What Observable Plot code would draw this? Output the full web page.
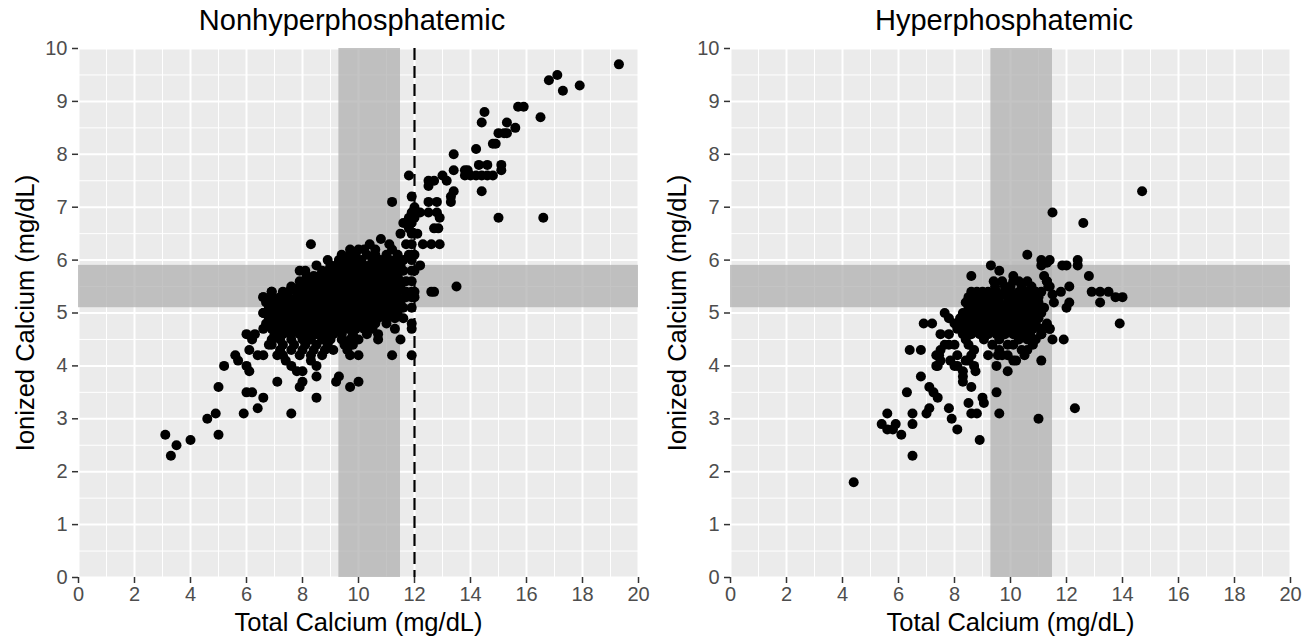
<!DOCTYPE html>
<html><head><meta charset="utf-8">
<script src="https://cdn.jsdelivr.net/npm/d3@7"></script>
<script src="https://cdn.jsdelivr.net/npm/@observablehq/plot@0.6"></script>
<style>
body{margin:0;background:#fff;}
#wrap{position:relative;width:1312px;height:641px;font-family:"Liberation Sans",Arial,sans-serif;overflow:hidden;}
.panel{position:absolute;top:0;width:656px;height:641px;}
.title{position:absolute;top:2px;height:36px;line-height:36px;font-size:29px;color:#000;text-align:center;white-space:nowrap;}
.panel svg{position:absolute;top:36px;left:0;}
</style></head><body><div id="wrap"></div>
<script>
// ---- data ----
const panelTitles = ["Nonhyperphosphatemic", "Hyperphosphatemic"];
const xLabel = "Total Calcium (mg/dL)";
const yLabel = "Ionized Calcium (mg/dL)";
const xTicks = [0, 2, 4, 6, 8, 10, 12, 14, 16, 18, 20];
const xMinor = [1, 3, 5, 7, 9, 11, 13, 15, 17, 19];
const yTicks = [0, 1, 2, 3, 4, 5, 6, 7, 8, 9, 10];
const yMinor = [0.5, 1.5, 2.5, 3.5, 4.5, 5.5, 6.5, 7.5, 8.5, 9.5];
const normalTotalRange = [9.3, 11.5];     // vertical reference band
const normalIonizedRange = [5.1, 5.9];    // horizontal reference band
const totalThreshold = [12];              // dashed line (left panel only)

// Nonhyperphosphatemic: dense core, rows of [ionized, [total...]]
const nonhyperRows = [
  [6.4, [10.8]],
  [6.3, [10.4, 11.1]],
  [6.2, [9.7, 10.0, 10.2, 10.6, 11.2]],
  [6.1, [9.4, 9.7, 9.9, 10.3, 10.6, 11.0, 11.4]],
  [6.0, [9.3, 9.6, 9.9, 10.1, 10.5, 10.8, 11.1, 11.3]],
  [5.9, [9.0, 9.2, 9.4, 9.6, 9.8, 10.0, 10.2, 10.4, 10.6, 10.8, 11.0, 11.2, 11.5]],
  [5.8, [8.7, 8.9, 9.1, 9.3, 9.4, 9.6, 9.8, 10.0, 10.1, 10.3, 10.5, 10.7, 10.9, 11.1, 11.3, 11.6]],
  [5.7, [8.4, 8.6, 8.7, 8.9, 9.0, 9.2, 9.3, 9.5, 9.6, 9.8, 9.9, 10.1, 10.2, 10.4, 10.5, 10.7, 10.8, 11.0, 11.1, 11.3, 11.4]],
  [5.6, [7.9, 8.2, 8.4, 8.5, 8.7, 8.8, 9.0, 9.1, 9.3, 9.4, 9.6, 9.7, 9.9, 10.0, 10.2, 10.3, 10.5, 10.6, 10.8, 10.9, 11.1, 11.2, 11.4, 11.5, 11.7]],
  [5.5, [7.6, 7.9, 8.1, 8.2, 8.4, 8.5, 8.7, 8.8, 9.0, 9.1, 9.3, 9.4, 9.6, 9.7, 9.9, 10.0, 10.2, 10.3, 10.5, 10.6, 10.8, 10.9, 11.1, 11.2, 11.4, 11.5]],
  [5.4, [6.9, 7.3, 7.5, 7.8, 8.0, 8.1, 8.3, 8.4, 8.6, 8.7, 8.9, 9.0, 9.2, 9.3, 9.5, 9.6, 9.8, 9.9, 10.1, 10.2, 10.4, 10.5, 10.7, 10.8, 11.0, 11.1, 11.3, 11.4, 11.7]],
  [5.3, [6.6, 6.9, 7.2, 7.5, 7.8, 8.0, 8.1, 8.3, 8.4, 8.6, 8.7, 8.9, 9.0, 9.2, 9.3, 9.5, 9.6, 9.8, 9.9, 10.1, 10.2, 10.4, 10.5, 10.7, 10.8, 11.0, 11.1, 11.3, 11.4, 11.7]],
  [5.2, [6.7, 7.0, 7.3, 7.6, 7.9, 8.1, 8.2, 8.4, 8.5, 8.7, 8.8, 9.0, 9.1, 9.3, 9.4, 9.6, 9.7, 9.9, 10.0, 10.2, 10.3, 10.5, 10.6, 10.8, 10.9, 11.1, 11.2, 11.5]],
  [5.1, [6.8, 7.1, 7.4, 7.7, 8.0, 8.2, 8.3, 8.5, 8.6, 8.8, 8.9, 9.1, 9.2, 9.4, 9.5, 9.7, 9.8, 10.0, 10.1, 10.3, 10.4, 10.6, 10.7, 10.9, 11.0, 11.3, 11.6]],
  [5.0, [6.6, 6.9, 7.2, 7.5, 7.8, 8.0, 8.1, 8.3, 8.4, 8.6, 8.7, 8.9, 9.0, 9.2, 9.3, 9.5, 9.6, 9.8, 9.9, 10.1, 10.2, 10.4, 10.5, 10.8, 11.1, 11.4]],
  [4.9, [6.8, 7.1, 7.4, 7.7, 8.0, 8.2, 8.3, 8.5, 8.6, 8.8, 8.9, 9.1, 9.2, 9.4, 9.5, 9.7, 9.8, 10.0, 10.1, 10.4, 10.7, 11.0, 11.3, 11.6]],
  [4.8, [6.7, 7.0, 7.3, 7.6, 7.9, 8.1, 8.2, 8.4, 8.5, 8.7, 8.8, 9.0, 9.1, 9.3, 9.4, 9.7, 10.0, 10.3, 10.6, 11.0]],
  [4.7, [6.6, 6.9, 7.2, 7.5, 7.8, 8.1, 8.4, 8.6, 8.7, 9.0, 9.3, 9.6, 9.9, 10.2, 10.5]],
  [4.6, [7.0, 7.3, 7.6, 7.9, 8.2, 8.5, 8.8, 9.1, 9.4, 9.8]],
  [4.5, [6.2, 6.9, 7.2, 7.6, 8.0, 8.3, 8.7, 9.0, 9.4, 9.7, 10.0]],
  [4.4, [6.9, 7.3, 7.7, 8.1, 8.5, 8.9, 9.5, 9.8]],
  [4.3, [7.2, 7.6, 8.0, 8.4, 8.8, 9.6]],
  [4.2, [7.9, 8.3, 8.7]]
];
const nonhyperOther = [
  [3.1,2.7],[3.3,2.3],[3.5,2.5],[4.0,2.6],[4.6,3.0],[4.9,3.1],[5.0,2.7],[5.0,3.6],[5.2,4.0],
  [5.6,4.2],[5.7,4.1],[5.9,3.1],[6.0,3.5],[6.2,3.5],[6.0,4.0],[6.1,3.9],[6.4,3.2],[6.6,3.4],
  [7.1,3.7],[7.6,3.1],[6.0,4.6],[6.3,4.6],[6.1,4.3],[6.4,4.2],[6.6,4.2],[6.8,4.4],[7.3,4.2],
  [7.4,4.1],[7.6,4.0],[7.8,3.9],[8.0,3.9],[7.9,3.6],[8.0,3.7],[8.3,4.1],[8.5,4.0],[8.5,3.8],
  [8.5,3.4],[9.2,3.7],[9.3,3.8],[9.7,3.6],[10.0,3.7],[9.7,4.2],[10.0,4.2],[9.1,4.3],[10.3,4.6],
  [10.7,4.6],[10.7,4.5],[11.3,4.7],[11.9,4.7],[11.5,4.5],[11.2,4.2],[11.9,4.2],[7.1,4.2],
  [8.3,6.3],[8.9,6.0],[8.5,5.9],[8.1,5.8],[7.9,5.8],[8.15,5.7],[6.6,5.3],[6.9,5.4],[6.6,5.0],
  [11.9,6.9],[11.9,6.7],[11.9,6.5],[11.9,6.3],[11.9,6.1],[11.9,6.0],[11.9,5.8],[11.9,5.6],
  [11.9,5.4],[11.9,5.3],[11.9,5.1],[11.9,4.8],[12.0,5.4],[12.0,5.8],[12.0,5.3],[12.0,6.1],
  [12.0,6.8],[11.5,6.5],[11.8,6.8],[11.7,6.3],[11.8,6.1],[11.6,6.0],[11.6,6.7],[11.8,6.6],
  [12.1,6.5],[11.2,7.1],[11.8,7.6],[11.9,7.2],[12.0,7.0],
  [12.5,7.5],[12.7,7.5],[12.5,7.4],[13.0,7.6],[13.15,7.5],[12.5,7.1],[12.8,7.1],[12.2,6.9],
  [12.5,6.9],[12.8,6.9],[12.9,6.8],[12.7,6.6],[12.85,6.6],[12.3,6.3],[12.6,6.3],[12.9,6.3],
  [12.2,5.9],[12.6,5.4],[12.7,5.4],[13.5,5.5],
  [13.4,7.3],[13.3,7.2],[13.3,7.1],[13.4,8.0],[13.4,7.7],[13.8,7.7],[13.9,7.7],[14.0,7.6],
  [13.8,7.6],[14.2,7.6],[14.4,7.6],[14.6,7.6],[14.8,7.6],[14.3,7.8],[14.6,7.8],[15.1,7.8],
  [15.1,7.7],[14.4,7.3],[14.2,8.1],[14.8,8.2],[14.9,8.2],[15.0,8.4],[15.2,8.4],[15.3,8.4],
  [15.6,8.5],[14.4,8.6],[15.3,8.6],[14.5,8.8],[16.5,8.7],[15.7,8.9],[15.9,8.9],[16.8,9.4],
  [17.1,9.5],[17.3,9.2],[17.9,9.3],[19.3,9.7],[15.0,6.8],[16.6,6.8]
];

// Hyperphosphatemic
const hyperRows = [
  [5.6, [9.4, 9.7, 10.1, 10.3, 10.6, 11.3]],
  [5.5, [9.45, 9.8, 10.0, 10.4, 10.75, 11.35, 12.1]],
  [5.4, [8.6, 8.8, 9.0, 9.2, 9.5, 9.8, 10.0, 10.3, 10.6, 10.9, 11.1, 11.8]],
  [5.3, [8.5, 8.8, 9.1, 9.3, 9.4, 9.6, 9.9, 10.2, 10.5, 10.8, 11.0]],
  [5.2, [8.4, 8.7, 9.0, 9.3, 9.6, 9.9, 10.1, 10.4, 10.7, 11.0, 11.55, 12.1]],
  [5.1, [8.5, 8.7, 8.9, 9.2, 9.5, 9.8, 10.0, 10.3, 10.6, 10.9, 11.2, 12.0]],
  [5.0, [7.65, 8.3, 8.6, 8.9, 9.1, 9.4, 9.7, 10.0, 10.2, 10.5, 10.8, 11.1]],
  [4.9, [7.8, 8.2, 8.4, 8.7, 9.0, 9.3, 9.5, 9.8, 10.1, 10.4, 10.7, 11.0]],
  [4.8, [6.9, 7.2, 8.0, 8.3, 8.6, 8.9, 9.1, 9.4, 9.7, 10.0, 10.3, 10.6, 10.9, 11.3, 13.9]],
  [4.7, [8.1, 8.4, 8.7, 9.0, 9.3, 9.6, 9.9, 10.2, 10.5, 10.8, 11.1, 11.4]],
  [4.6, [7.5, 7.8, 8.3, 8.6, 8.9, 9.2, 9.5, 9.8, 10.1, 10.4, 10.7, 11.1]],
  [4.5, [8.4, 9.05, 9.6, 10.3, 10.6, 10.9, 11.5, 11.9]],
  [4.4, [7.65, 7.8, 8.0, 8.5, 9.35, 9.9, 10.1, 10.8]],
  [4.3, [6.4, 6.8, 7.5, 8.7, 9.6, 10.4, 10.6]],
  [4.2, [7.35, 7.45, 8.1, 8.6, 9.2, 9.55, 9.7, 9.9, 10.5]],
  [4.1, [7.5, 7.85, 8.4, 8.5, 10.1, 10.2, 11.1]],
  [4.0, [7.35, 7.4, 8.0, 8.1, 8.7, 9.5]],
  [3.9, [8.3, 8.75, 9.9]]
];
const hyperOther = [
  [4.4,1.8],[6.5,2.3],[8.9,2.6],[11.0,3.0],[12.3,3.2],[5.6,3.1],[5.4,2.9],[5.6,2.8],[5.8,2.8],
  [5.9,2.9],[6.1,2.7],[6.5,2.9],[6.5,3.1],[6.3,3.5],[6.8,3.8],[7.1,3.6],[7.25,3.5],[7.4,3.4],
  [7.0,3.1],[7.1,3.2],[7.8,3.2],[7.9,3.0],[8.1,2.8],[8.5,3.3],[8.6,3.1],[8.8,3.1],[9.0,3.4],
  [9.05,3.3],[9.5,3.5],[9.6,3.1],[8.3,3.8],[8.3,3.7],[8.6,3.6],[11.4,4.7],[11.1,4.6],
  [8.6,5.7],[9.3,5.9],[9.6,5.8],[10.6,6.1],[11.1,6.0],[11.4,6.0],[11.1,5.9],[11.3,5.95],
  [11.85,5.9],[12.0,5.9],[12.4,6.0],[12.4,5.9],[11.2,5.7],[11.3,5.6],[11.4,5.5],[11.5,5.35],
  [10.1,5.7],[14.7,7.3],[11.5,6.9],[12.6,6.7],[12.8,5.7],[12.9,5.4],[13.2,5.4],[13.5,5.4],
  [13.2,5.2],[13.75,5.3],[14.0,5.3]
];

// ---- build ----
function flatten(rows, other) {
  const pts = [];
  for (const [y, xs] of rows) for (const x of xs) pts.push({total: x, ionized: y});
  for (const [x, y] of other) pts.push({total: x, ionized: y});
  return pts;
}
const panels = [
  {title: panelTitles[0], points: flatten(nonhyperRows, nonhyperOther), dashed: true, left: 0, marginLeft: 78, marginRight: 18},
  {title: panelTitles[1], points: flatten(hyperRows, hyperOther), dashed: false, left: 656, marginLeft: 74, marginRight: 22}
];
const FONT = "Liberation Sans, Arial, sans-serif";
const wrap = document.getElementById("wrap");
for (const p of panels) {
  const div = document.createElement("div");
  div.className = "panel";
  div.style.left = p.left + "px";
  const t = document.createElement("div");
  t.className = "title";
  t.textContent = p.title;
  t.style.left = (p.marginLeft - 6) + "px";
  t.style.width = (656 - p.marginLeft - p.marginRight) + "px";
  div.appendChild(t);
  const svg = Plot.plot({
    width: 656, height: 605,
    marginLeft: p.marginLeft, marginRight: p.marginRight, marginTop: 12, marginBottom: 64,
    x: {domain: [0, 20]}, y: {domain: [0, 10]},
    style: {fontFamily: FONT, background: "transparent", overflow: "visible"},
    marks: [
      Plot.frame({fill: "#EBEBEB", stroke: null}),
      Plot.ruleX(xMinor, {stroke: "white", strokeWidth: 1}),
      Plot.ruleY(yMinor, {stroke: "white", strokeWidth: 1}),
      Plot.ruleX(xTicks, {stroke: "white", strokeWidth: 2}),
      Plot.ruleY(yTicks, {stroke: "white", strokeWidth: 2}),
      Plot.rect([normalTotalRange], {x1: d => d[0], x2: d => d[1], y1: () => 0, y2: () => 10, fill: "#b0b0b0", fillOpacity: 0.75}),
      Plot.rect([normalIonizedRange], {y1: d => d[0], y2: d => d[1], x1: () => 0, x2: () => 20, fill: "#b0b0b0", fillOpacity: 0.75}),
      p.dashed ? Plot.ruleX(totalThreshold, {stroke: "black", strokeWidth: 2.2, strokeDasharray: "12,6"}) : null,
      Plot.dot(p.points, {x: "total", y: "ionized", r: 5, fill: "black", stroke: null}),
      Plot.axisX(xTicks, {label: null, tickFormat: d => String(d), tickSize: 6, tickPadding: 3, fontSize: 20, stroke: "#333", fill: "#4d4d4d", strokeWidth: 1.5}),
      Plot.axisY(yTicks, {label: null, tickFormat: d => String(d), tickSize: 6, tickPadding: 5, fontSize: 20, stroke: "#333", fill: "#4d4d4d", strokeWidth: 1.5}),
      Plot.text([xLabel], {frameAnchor: "bottom", dy: 45, fontSize: 25.5, fill: "black", lineAnchor: "middle", textAnchor: "middle"}),
      Plot.text([yLabel], {frameAnchor: "left", dx: -53, rotate: -90, fontSize: 25.5, fill: "black", lineAnchor: "middle", textAnchor: "middle"})
    ]
  });
  div.appendChild(svg);
  wrap.appendChild(div);
}
</script>
</body></html>
